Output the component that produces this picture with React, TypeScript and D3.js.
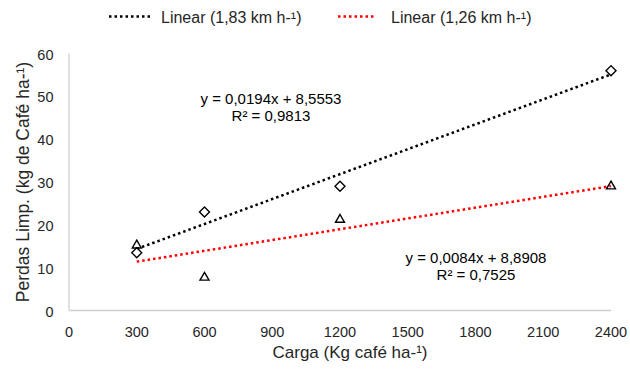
import { useEffect, useRef } from "react";
import * as d3 from "d3";

const cargas = [300, 600, 1200, 2400];
const perdas183 = [13.5, 23, 29, 56];
const perdas126 = [15.2, 7.7, 21.2, 29];
const fit183 = { a: 0.0194, b: 8.5553, label: "y = 0,0194x + 8,5553", r2: "R² = 0,9813" };
const fit126 = { a: 0.0084, b: 8.8908, label: "y = 0,0084x + 8,8908", r2: "R² = 0,7525" };
const xTicks = [0, 300, 600, 900, 1200, 1500, 1800, 2100, 2400];
const yTicks = [0, 10, 20, 30, 40, 50, 60];

export default function App() {
  const svgRef = useRef<SVGSVGElement>(null);

  useEffect(() => {
    const svg = d3.select(svgRef.current);
    svg.selectAll("*").remove();
    const font = "'Liberation Sans', Arial, sans-serif";

    const x = d3.scaleLinear().domain([0, 2400]).range([69, 611]);
    const y = d3.scaleLinear().domain([0, 60]).range([310.5, 53.5]);

    // axes lines (grey, no gridlines)
    svg.append("line")
      .attr("x1", x(0)).attr("x2", x(2400))
      .attr("y1", y(0)).attr("y2", y(0))
      .attr("stroke", "#d0d0d0").attr("stroke-width", 1.3);
    svg.append("line")
      .attr("x1", x(0)).attr("x2", x(0))
      .attr("y1", y(0)).attr("y2", y(60))
      .attr("stroke", "#d0d0d0").attr("stroke-width", 1.3);

    svg.append("g").selectAll("text")
      .data(xTicks).enter().append("text")
      .attr("x", d => x(d)).attr("y", y(0) + 26)
      .attr("text-anchor", "middle")
      .style("font", `14.5px ${font}`).attr("fill", "#262626")
      .text(d => d);

    svg.append("g").selectAll("text")
      .data(yTicks).enter().append("text")
      .attr("x", 53.5).attr("y", d => y(d) + 6)
      .attr("text-anchor", "end")
      .style("font", `14.5px ${font}`).attr("fill", "#262626")
      .text(d => d);

    svg.append("text")
      .attr("x", 350).attr("y", 358)
      .attr("text-anchor", "middle")
      .style("font", `17px ${font}`).attr("fill", "#262626")
      .text("Carga (Kg café ha-¹)");

    svg.append("text")
      .attr("transform", `translate(29, ${(y(0) + y(60)) / 2}) rotate(-90)`)
      .attr("text-anchor", "middle")
      .style("font", `17.5px ${font}`).attr("fill", "#262626")
      .text("Perdas Limp. (kg de Café ha-¹)");

    // trend lines
    const trends = [
      { fit: fit183, color: "#000000" },
      { fit: fit126, color: "#ff0000" },
    ];
    trends.forEach(t => {
      svg.append("line")
        .attr("x1", x(300)).attr("y1", y(t.fit.a * 300 + t.fit.b))
        .attr("x2", x(2400)).attr("y2", y(t.fit.a * 2400 + t.fit.b))
        .attr("stroke", t.color).attr("stroke-width", 2.5)
        .attr("stroke-dasharray", "2.5 3");
    });

    // markers
    const diamond = d3.symbol().type(d3.symbolDiamond2).size(64);
    svg.append("g").selectAll("path")
      .data(cargas).enter().append("path")
      .attr("d", diamond)
      .attr("transform", (d, i) => `translate(${x(d)},${y(perdas183[i])})`)
      .attr("fill", "white").attr("stroke", "#000").attr("stroke-width", 1.4);

    const tri = d3.symbol().type(d3.symbolTriangle2).size(58);
    svg.append("g").selectAll("path")
      .data(cargas).enter().append("path")
      .attr("d", tri)
      .attr("transform", (d, i) => `translate(${x(d)},${y(perdas126[i])})`)
      .attr("fill", "none").attr("stroke", "#000").attr("stroke-width", 1.4);

    // equations
    const eqs = [
      { fit: fit183, cx: 271, cy: 104 },
      { fit: fit126, cx: 476, cy: 263 },
    ];
    eqs.forEach(e => {
      svg.append("text")
        .attr("x", e.cx).attr("y", e.cy)
        .attr("text-anchor", "middle")
        .style("font", `15px ${font}`).attr("fill", "#000")
        .text(e.fit.label);
      svg.append("text")
        .attr("x", e.cx).attr("y", e.cy + 17)
        .attr("text-anchor", "middle")
        .style("font", `15px ${font}`).attr("fill", "#000")
        .text(e.fit.r2);
    });

    // legend
    const legend = [
      { x0: 109, x1: 152, tx: 161, color: "#000000", name: "Linear (1,83 km h-¹)" },
      { x0: 338, x1: 374, tx: 391, color: "#ff0000", name: "Linear (1,26 km h-¹)" },
    ];
    legend.forEach(l => {
      svg.append("line")
        .attr("x1", l.x0).attr("x2", l.x1).attr("y1", 16.5).attr("y2", 16.5)
        .attr("stroke", l.color).attr("stroke-width", 2.5)
        .attr("stroke-dasharray", "2.5 3");
      svg.append("text")
        .attr("x", l.tx).attr("y", 22.5)
        .style("font", `16px ${font}`).attr("fill", "#262626")
        .text(l.name);
    });
  }, []);

  return (
    <svg
      ref={svgRef}
      width={630}
      height={371}
      style={{ position: "absolute", left: 0, top: 0, background: "white" }}
    />
  );
}
